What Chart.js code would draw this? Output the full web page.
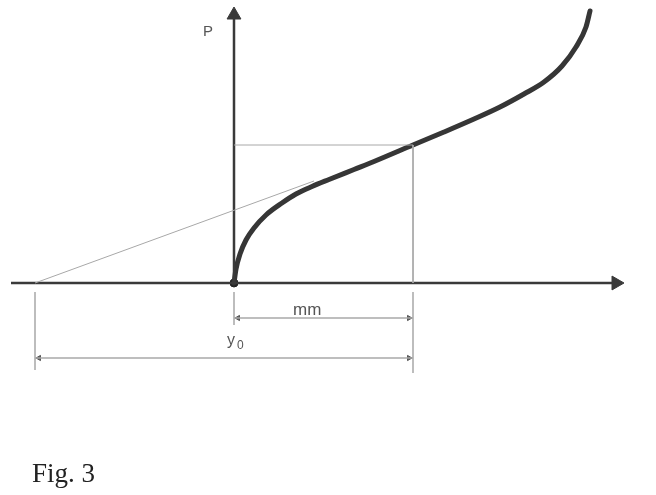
<!DOCTYPE html>
<html>
<head>
<meta charset="utf-8">
<script src="https://cdn.jsdelivr.net/npm/chart.js@4"></script>
<style>
  body { margin: 0; background: #fff; }
  canvas { display: block; }
</style>
</head>
<body>
<canvas id="myChart" width="656" height="495"></canvas>
<script>
// load curve P(y) (origin = 0,0)
const curveX = [0, 2, 6, 12, 20, 32, 48, 62, 78, 95, 120, 140, 179, 210, 240, 266, 290, 310, 328, 342, 352, 356];
const curveY = [0, 14, 29, 43, 55, 68, 80, 89, 96.5, 103.5, 113.5, 121.5, 138, 151, 164, 176, 189, 201, 217, 236, 256, 272];

// axes
const axisX = [-223, 389];
const axisY = [0, 275];

// tangent line and its foot y0
const tangentX = [-199, 80];
const tangentY = [0, 102];

// reading point on the curve
const readX = 179;
const readY = 138;

// dimension lines
const mmLevel = -35;
const y0Level = -75;
const tickTop = -9;
const tickBottom = [-42, -90, -87]; // at 0, readX, tangentX[0]

const labels = ["P", "mm", "y", "0", "Fig. 3"];

initChart();

function line(pts, color, width, extra) {
  return Object.assign({
    data: pts,
    showLine: true,
    borderColor: color,
    borderWidth: width,
    pointRadius: 0,
    clip: false,
  }, extra || {});
}

function arrow(x, y, rot, r, color) {
  return {
    data: [{ x: x, y: y }],
    showLine: false,
    pointStyle: "triangle",
    rotation: rot,
    pointRadius: r,
    backgroundColor: color,
    borderColor: color,
    borderWidth: 1,
    clip: false,
  };
}

function initChart() {
  const thin = "#a8a8a8";
  const axis = "#3a3a3a";

  const curve = curveX.map((x, i) => ({ x: x, y: curveY[i] }));

  const datasets = [
    // guide lines
    line([{ x: 0, y: readY }, { x: readX, y: readY }, { x: readX, y: 0 }], thin, 1),
    line([{ x: tangentX[0], y: tangentY[0] }, { x: tangentX[1], y: tangentY[1] }], thin, 1),
    // dimension ticks
    line([{ x: 0, y: tickTop }, { x: 0, y: tickBottom[0] }], thin, 1.5),
    line([{ x: readX, y: tickTop }, { x: readX, y: tickBottom[1] }], thin, 1.5),
    line([{ x: tangentX[0], y: tickTop }, { x: tangentX[0], y: tickBottom[2] }], thin, 1.5),
    // dimension lines
    line([{ x: 0, y: mmLevel }, { x: readX, y: mmLevel }], thin, 1.5),
    line([{ x: tangentX[0], y: y0Level }, { x: readX, y: y0Level }], thin, 1.5),
    arrow(4, mmLevel, 270, 3, "#555"),
    arrow(readX - 4, mmLevel, 90, 3, "#555"),
    arrow(tangentX[0] + 4, y0Level, 270, 3, "#555"),
    arrow(readX - 4, y0Level, 90, 3, "#555"),
    // axes
    line([{ x: axisX[0], y: 0 }, { x: axisX[1] - 8, y: 0 }], axis, 2.5),
    line([{ x: 0, y: axisY[0] }, { x: 0, y: axisY[1] - 8 }], axis, 2.5),
    arrow(axisX[1] - 7, 0, 90, 8, axis),
    arrow(0, axisY[1] - 7, 0, 8, axis),
    // load curve
    line(curve, "#363636", 5, { cubicInterpolationMode: "monotone", borderCapStyle: "round" }),
    // origin dot
    {
      data: [{ x: 0, y: 0 }],
      pointRadius: 4,
      backgroundColor: "#222",
      borderColor: "#222",
      clip: false,
    },
  ];

  const textPlugin = {
    id: "texts",
    afterDraw(chart) {
      const c = chart.ctx;
      const sx = chart.scales.x;
      const sy = chart.scales.y;
      c.save();
      c.fillStyle = "#555";
      c.textBaseline = "alphabetic";
      c.font = "15px 'Liberation Sans', Arial, sans-serif";
      c.fillText(labels[0], sx.getPixelForValue(-31), sy.getPixelForValue(247));
      c.font = "17px 'Liberation Sans', Arial, sans-serif";
      c.fillText(labels[1], sx.getPixelForValue(59), sy.getPixelForValue(-32));
      c.font = "16px 'Liberation Sans', Arial, sans-serif";
      c.fillText(labels[2], sx.getPixelForValue(-7), sy.getPixelForValue(-62));
      c.font = "12px 'Liberation Sans', Arial, sans-serif";
      c.fillText(labels[3], sx.getPixelForValue(3), sy.getPixelForValue(-66));
      c.fillStyle = "#222";
      c.font = "27px 'Liberation Serif', 'Times New Roman', serif";
      c.fillText(labels[4], sx.getPixelForValue(-202), sy.getPixelForValue(-199));
      c.restore();
    },
  };

  const ctx = document.getElementById("myChart").getContext("2d");
  window.chart = new Chart(ctx, {
    type: "scatter",
    data: { datasets: datasets },
    options: {
      responsive: false,
      animation: false,
      layout: { padding: 0, autoPadding: false },
      plugins: { legend: { display: false }, tooltip: { enabled: false } },
      scales: {
        x: { type: "linear", display: false, min: -234, max: 422 },
        y: { type: "linear", display: false, min: -212, max: 283 },
      },
    },
    plugins: [textPlugin],
  });
}
</script>
</body>
</html>
